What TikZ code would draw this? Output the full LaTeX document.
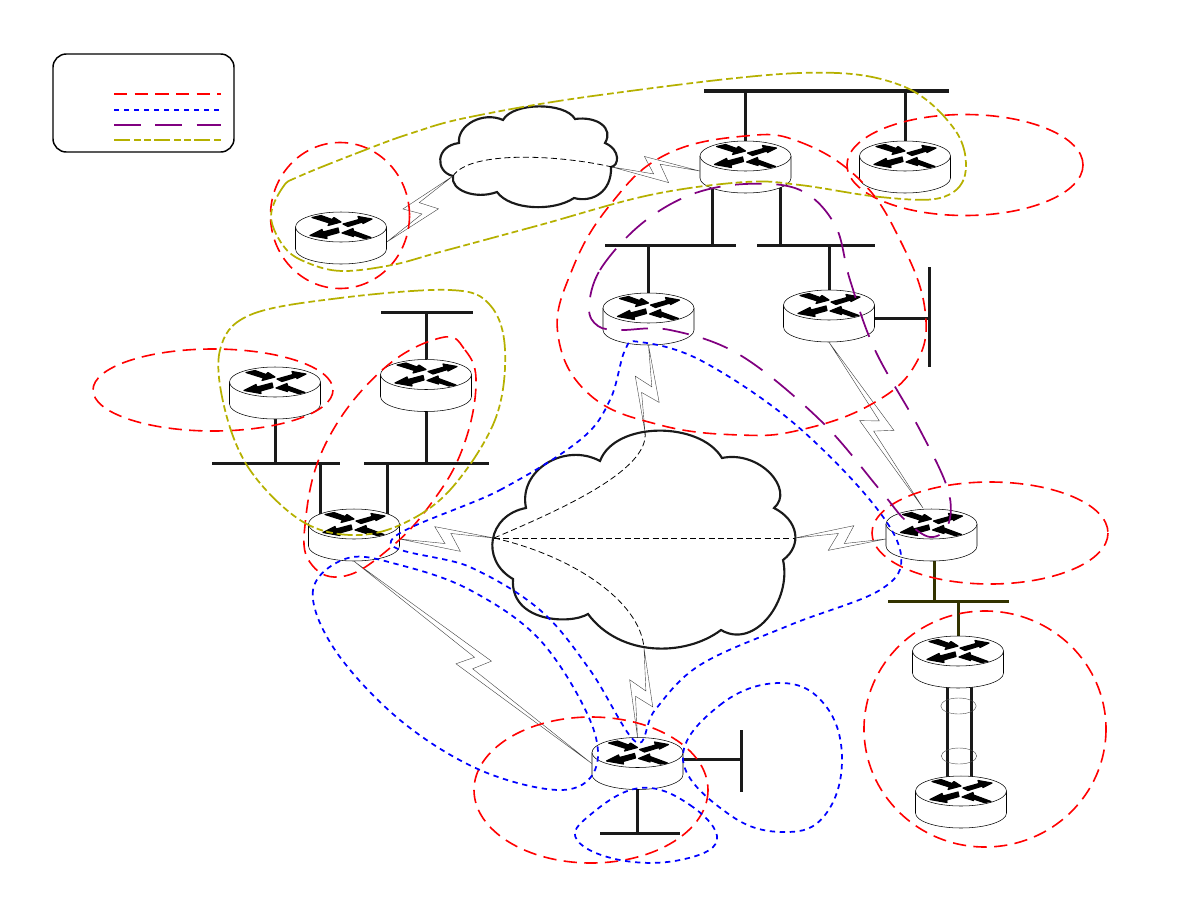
\documentclass[tikz,border=0pt]{standalone}
\usepackage{tikz}
\usetikzlibrary{calc, shapes.geometric}
\definecolor{zoneolive}{RGB}{181,176,0}
\definecolor{zonepurple}{RGB}{128,0,128}
\definecolor{busdark}{RGB}{26,26,26}
\definecolor{busolive}{RGB}{51,51,0}
\tikzstyle{routernode} = [rectangle, inner sep=0pt, minimum width=68.25pt, minimum height=39pt]
\tikzstyle{routerline} = [draw=black, fill=white, line width=.4pt]
\tikzstyle{routerarrow} = [draw=black, fill=black, line width=.9pt, line join=round]
\tikzstyle{wire} = [line width=2.25pt, draw=busdark]
\tikzstyle{wireolive} = [line width=2.25pt, draw=busolive]
\tikzstyle{hbus} = [fill=busdark, inner sep=0pt, minimum height=2.25pt]
\tikzstyle{vbus} = [fill=busdark, inner sep=0pt, minimum width=2.25pt]
\tikzstyle{bundle} = [draw=black!70, line width=.3pt, ellipse, inner sep=0pt, minimum width=26.5pt, minimum height=12pt]
\tikzstyle{wanline} = [line width=.3pt, draw=black!75, line join=miter]
\tikzstyle{cloudline} = [line width=1.6pt, draw=busdark, fill=white, line join=miter]
\tikzstyle{pvc} = [line width=.6pt, draw=black, dash pattern=on 4.5pt off 2.5pt]
\tikzstyle{redzone} = [line width=1.2pt, draw=red, dash pattern=on 10pt off 5.5pt]
\tikzstyle{bluezone} = [line width=1.3pt, draw=blue, dash pattern=on 4pt off 3.5pt]
\tikzstyle{purplezone} = [line width=1.3pt, draw=zonepurple, dash pattern=on 20pt off 11pt]
\tikzstyle{olivezone} = [line width=1.3pt, draw=zoneolive, dash pattern=on 12pt off 3pt on 5pt off 2.5pt on 5pt off 2.5pt]
% can body plus the four arrows on its lid, drawn at a named node
\newcommand{\router}[1]{%
  \begin{scope}[shift={(#1.center)}]
    \draw[routerline] (-45.5,-11) -- (-45.5,11) arc[start angle=180, end angle=0, x radius=45.5, y radius=15] -- (45.5,-11);
    \draw[routerline] (0,-11) ellipse[x radius=45.5, y radius=15];
    \filldraw[routerarrow] (-29,-20.5) -- (-20,-22.5) -- (-9,-18.5) -- (-7,-20.5) -- (0,-16) -- (-13,-12.5) -- (-11.5,-15) -- cycle;
    \filldraw[routerarrow] (2,-14) -- (18,-18.5) -- (17,-21.5) -- (31,-19) -- (22,-14.5) -- (21.5,-16) -- (7,-11.5) -- cycle;
    \filldraw[routerarrow] (-3,-10) -- (-18,-6) -- (-19,-8.5) -- (-31,-2.5) -- (-14,.5) -- (-14.5,-2) -- (-2,-5.5) -- cycle;
    \filldraw[routerarrow] (1,-5) -- (12,-9.5) -- (12.5,-7) -- (30,-.5) -- (23,.5) -- (12.5,-3) -- (12.5,-1.5) -- cycle;
  \end{scope}}
% zigzag serial link, #1 is the side of the first jog
\newcommand{\wanlink}[3]{%
  \draw[wanline] (#2) -- ($(#2)!.5!(#3)!-1.5pt!(#3)!#1*3.75pt!-90:(#3)$)
    -- ($(#2)!.5!(#3)!-9pt!(#3)!#1*-9pt!-90:(#3)$) -- (#3)
    -- ($(#2)!.5!(#3)!3pt!(#3)!#1*-3.75pt!-90:(#3)$)
    -- ($(#2)!.5!(#3)!10pt!(#3)!#1*9.75pt!-90:(#3)$) -- cycle;}

\begin{document}
\begin{tikzpicture}[x=.75pt, y=-.75pt]
    \useasboundingbox (0,0) rectangle (1188,918);

    % legend
    \node[draw=black, line width=1.1pt, rounded corners=10pt, minimum width=135.75pt, minimum height=73.5pt, inner sep=0pt] (legend) at (143.5,103) {};
    \foreach \y/\s in {94/redzone, 110/bluezone, 125/purplezone, 140/olivezone}
        \draw[\s] (114,\y) -- (221,\y);

    % clouds
    \draw[cloudline] (459,143) .. controls (457,125) and (483,111) .. (503,120)
        .. controls (513,102) and (565,102) .. (575,119)
        .. controls (597,116) and (614,128) .. (605,143)
        .. controls (621,150) and (619,166) .. (611,167)
        .. controls (612,192) and (592,203) .. (574,198)
        .. controls (553,212) and (510,210) .. (497,192)
        .. controls (475,200) and (450,190) .. (453,176)
        .. controls (435,172) and (435,146) .. cycle;
    \draw[cloudline] (526,508) .. controls (518,470) and (565,442) .. (600,461)
        .. controls (615,421) and (700,421) .. (722,458)
        .. controls (760,450) and (795,490) .. (774,508)
        .. controls (798,520) and (803,545) .. (783,560)
        .. controls (792,600) and (755,650) .. (721,630)
        .. controls (685,657) and (620,657) .. (588,614)
        .. controls (570,625) and (510,622) .. (513,579)
        .. controls (480,560) and (488,515) .. cycle;
    \coordinate (wanAw) at (453,176);
    \coordinate (wanAe) at (612,167);
    \coordinate (wanBw) at (494,538);
    \coordinate (wanBe) at (795,538);
    \coordinate (wanBn) at (645,432);
    \coordinate (wanBs) at (644,648);
    \draw[pvc] (wanAw) .. controls (470,150) and (560,155) .. (wanAe);
    \draw[pvc] (wanBw) -- (wanBe);
    \draw[pvc] (wanBw) .. controls (560,510) and (650,470) .. (wanBn);
    \draw[pvc] (wanBw) .. controls (570,555) and (640,600) .. (wanBs);

    % lan segments
    \node[hbus, minimum width=183.75pt, minimum height=2.6pt] (busA) at (826.5,91) {};
    \node[hbus, minimum width=98.25pt] (busB) at (670.5,245) {};
    \node[hbus, minimum width=88.5pt] (busC) at (816,245) {};
    \node[vbus, minimum height=75pt] (busD) at (929,317) {};
    \node[hbus, minimum width=69pt] (busE) at (427,312) {};
    \node[hbus, minimum width=93.75pt] (busF) at (426.5,463) {};
    \node[hbus, minimum width=96pt] (busG) at (276,463) {};
    \node[hbus, fill=busolive, minimum width=90.75pt] (busH) at (948.5,601) {};
    \node[vbus, minimum height=46.5pt] (busI) at (741,761) {};
    \node[hbus, minimum width=60pt] (busJ) at (640,833) {};

    % named first, so that the stems can end behind the router bodies
    \node[routernode] (ra) at (341,238) {};
    \node[routernode] (rb) at (745.5,167) {};
    \node[routernode] (rc) at (905,167) {};
    \node[routernode] (rd) at (648.5,319) {};
    \node[routernode] (re) at (829,316) {};
    \node[routernode] (rf) at (275,393) {};
    \node[routernode] (rg) at (426,385.5) {};
    \node[routernode] (rh) at (354,535) {};
    \node[routernode] (ri) at (931.5,535) {};
    \node[routernode] (rj) at (958,662) {};
    \node[routernode] (rk) at (961,802) {};
    \node[routernode] (rl) at (637.5,763.5) {};

    \draw[wire] (busA -| rb) -- (rb);
    \draw[wire] (busA -| rc) -- (rc);
    \draw[wire] ([xshift=-25pt]rb.center) -- ([xshift=-25pt]rb.center |- busB);
    \draw[wire] ([xshift=26.6pt]rb.center) -- ([xshift=26.6pt]rb.center |- busC);
    \draw[wire] (busB -| rd) -- (rd);
    \draw[wire] (busC -| re) -- (re);
    \draw[wire] ([yshift=-1.5pt]re.center -| busD) -- ([yshift=-1.5pt]re.center);
    \draw[wire] (busE -| rg) -- (rg);
    \draw[wire] (busF -| rg) -- (rg);
    \draw[wire] (busG -| rf) -- (rf);
    \draw[wire] ([xshift=-25pt]rh.center) -- ([xshift=-25pt]rh.center |- busG);
    \draw[wire] ([xshift=25pt]rh.center) -- ([xshift=25pt]rh.center |- busF);
    \draw[wireolive] ([xshift=2pt]ri.center) -- ([xshift=2pt]ri.center |- busH);
    \draw[wireolive] (busH -| rj) -- (rj);
    \draw[wire] ([yshift=3pt]rl.center -| busI) -- ([yshift=3pt]rl.center);
    \draw[wire] (rl |- busJ) -- (rl);
    \draw[wire] ([xshift=-8.25pt]rj.center) -- ([xshift=-8.25pt]rj.center |- rk);
    \draw[wire] ([xshift=9.75pt]rj.center) -- ([xshift=9.75pt]rj.center |- rk);
    \node[bundle] (bundleA) at (958.5,706) {};
    \node[bundle] (bundleB) at (959,756) {};

    % serial links
    \coordinate (riTop) at (923,508);
    \wanlink{1}{ra.-5}{wanAw}
    \wanlink{1}{wanAe}{rb.185}
    \wanlink{-1}{rd.south}{wanBn}
    \wanlink{-1}{re.south}{riTop}
    \wanlink{-1}{wanBe}{ri.185}
    \wanlink{1}{rh.-5}{wanBw}
    \wanlink{-1}{rh.south}{rl.west}
    \wanlink{-1}{wanBs}{rl.north}

    \foreach \r in {ra,rb,rc,rd,re,rf,rg,rh,ri,rj,rk,rl} {
        \router{\r}
    }

    % red areas
    \draw[redzone] (340,215.5) ellipse[x radius=69.5, y radius=73];
    \draw[redzone] (965,165) ellipse[x radius=118, y radius=50.5];
    \draw[redzone] (213,390) ellipse[x radius=120, y radius=41];
    \draw[redzone] (990,533) ellipse[x radius=118, y radius=51];
    \draw[redzone] (985,729) ellipse[x radius=121, y radius=118];
    \draw[redzone] (591,790) ellipse[x radius=117, y radius=73];
    \draw[redzone] plot[smooth cycle, tension=.7] coordinates {(745,136) (800,142) (860,180) (900,240) (925,310) (915,365) (870,405) (800,430) (740,435) (660,425) (590,395) (558,335) (572,270) (610,205) (665,155)};
    \draw[redzone] plot[smooth cycle, tension=.7] coordinates {(440,338) (465,350) (476,385) (462,450) (430,505) (390,548) (345,576) (312,565) (305,525) (325,445) (380,372)};

    % blue tunnels
    \draw[bluezone] plot[smooth cycle, tension=.6] coordinates {(391,541) (500,490) (580,440) (610,400) (625,350) (640,342) (700,360) (790,420) (870,500) (901,555) (880,590) (790,625) (700,665) (655,710) (636,742) (590,670) (540,610) (470,567)};
    \draw[bluezone] plot[smooth cycle, tension=.6] coordinates {(348,558) (313,590) (335,650) (400,720) (480,770) (560,790) (595,770) (590,720) (540,640) (470,590) (400,565)};
    \draw[bluezone] plot[smooth cycle, tension=.7] coordinates {(683,760) (720,705) (780,683) (825,705) (842,760) (825,815) (785,832) (730,815)};
    \draw[bluezone] plot[smooth cycle, tension=.7] coordinates {(640,788) (690,805) (717,840) (680,860) (620,860) (577,840) (590,815)};

    % purple and olive areas
    \draw[purplezone] plot[smooth cycle, tension=.6] coordinates {(589,308) (600,270) (640,225) (690,195) (745,184) (800,190) (835,225) (850,280) (875,350) (920,430) (948,490) (948,525) (930,537) (905,520) (880,490) (820,420) (740,355) (670,330) (620,330) (598,326)};
    \draw[olivezone] plot[smooth cycle, tension=.6] coordinates {(271,217) (283,187) (300,176) (365,150) (412,133) (470,117) (600,95) (800,73) (900,85) (955,130) (965,175) (940,198) (880,197) (800,185) (745,182) (650,195) (540,225) (440,252) (392,265) (342,271) (308,263) (285,248)};
    \draw[olivezone] plot[smooth cycle, tension=.6] coordinates {(220,350) (250,315) (340,298) (450,290) (490,305) (505,350) (495,420) (450,490) (400,525) (350,535) (300,520) (250,470) (225,410)};
\end{tikzpicture}
\end{document}
